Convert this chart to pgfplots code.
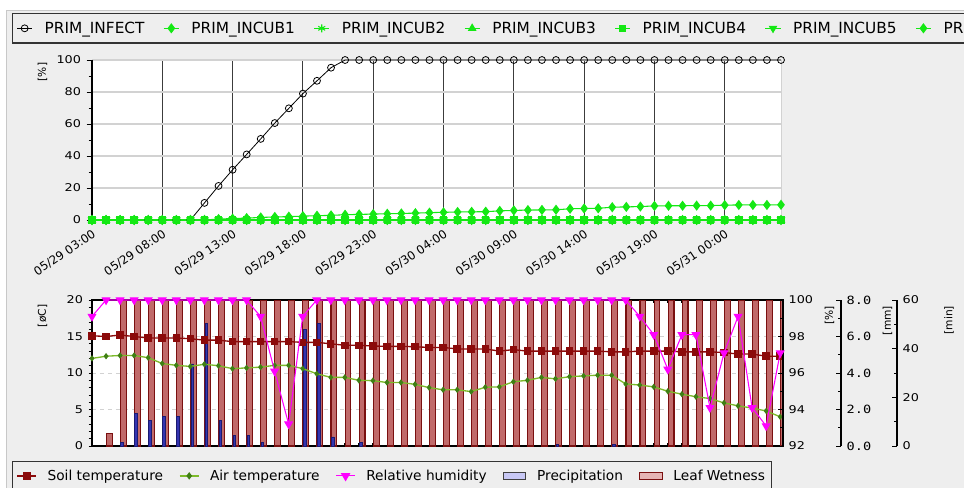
\documentclass[border=0pt]{standalone}
\usepackage{fontspec}
\setmainfont{DejaVu Sans}
\newfontfamily\monofont{DejaVu Sans Mono}
\usepackage{pgfplots}
\usepackage{pgfplotstable}
\pgfplotsset{compat=1.18}

\definecolor{panel}{HTML}{EEEEEE}
\definecolor{panelline}{HTML}{C8C8C8}
\definecolor{incub}{HTML}{14E814}
\definecolor{soil}{HTML}{8B0A0A}
\definecolor{airline}{HTML}{7DBA2A}
\definecolor{airmark}{HTML}{3F7F14}
\definecolor{rh}{HTML}{FF00FF}
\definecolor{leaffill}{HTML}{C06A6A}
\definecolor{leafdraw}{HTML}{7A1010}
\definecolor{leafleg}{HTML}{E6B4B4}
\definecolor{precfill}{HTML}{3434B0}
\definecolor{precdraw}{HTML}{1A1A70}
\definecolor{precleg}{HTML}{C8C8F5}
\definecolor{gridv}{HTML}{3C3C3C}
\definecolor{gridh}{HTML}{D2D2D2}

\pgfplotsset{
  /pgf/number format/assume math mode=true,
  tick label style={font=\fontsize{8}{9.5}\selectfont},
  yticklabel style={xscale=1.2},
  major tick length=4pt, minor tick length=2.5pt,
  tick style={black, line width=0.6pt},
}

% hourly values from 05/29 03:00 (h=0)
\pgfplotstableread{
h infect incub1 zero
0 0 0 0
1 0 0 0
2 0 0 0
3 0 0 0
4 0 0 0
5 0 0 0
6 0 0 0
7 0 0 0
8 10.7 0 0
9 21.3 0.6 0
10 31.4 0.9 0
11 41.0 1.2 0
12 50.7 1.6 0
13 60.6 1.9 0
14 69.8 2.1 0
15 79.0 2.4 0
16 87.0 2.7 0
17 95.2 2.9 0
18 100 3.3 0
19 100 3.5 0
20 100 3.7 0
21 100 3.9 0
22 100 4.1 0
23 100 4.3 0
24 100 4.6 0
25 100 4.8 0
26 100 5.0 0
27 100 5.1 0
28 100 5.2 0
29 100 5.7 0
30 100 6.0 0
31 100 6.2 0
32 100 6.3 0
33 100 6.4 0
34 100 7.0 0
35 100 7.2 0
36 100 7.3 0
37 100 8.0 0
38 100 8.2 0
39 100 8.4 0
40 100 8.8 0
41 100 8.9 0
42 100 8.9 0
43 100 9.0 0
44 100 9.0 0
45 100 9.3 0
46 100 9.4 0
47 100 9.4 0
48 100 9.4 0
49 100 9.5 0
}\topdata

\pgfplotstableread{
h soil air rh
0 15.1 12.0 99.1
1 15.0 12.3 100
2 15.2 12.4 100
3 15.0 12.4 100
4 14.8 12.1 100
5 14.8 11.3 100
6 14.8 11.05 100
7 14.7 10.9 100
8 14.5 11.2 100
9 14.5 11.0 100
10 14.3 10.6 100
11 14.3 10.7 100
12 14.3 10.8 99.1
13 14.3 11.05 96.1
14 14.3 11.05 93.2
15 14.2 10.6 99.1
16 14.2 9.9 100
17 14.0 9.4 100
18 13.8 9.4 100
19 13.8 9.0 100
20 13.7 8.95 100
21 13.65 8.7 100
22 13.65 8.7 100
23 13.6 8.45 100
24 13.5 8.0 100
25 13.5 7.7 100
26 13.3 7.7 100
27 13.3 7.45 100
28 13.3 8.05 100
29 13.0 8.1 100
30 13.2 8.8 100
31 13.0 9.0 100
32 13.0 9.4 100
33 13.0 9.2 100
34 13.0 9.5 100
35 13.0 9.6 100
36 13.0 9.7 100
37 12.9 9.7 100
38 12.9 8.5 100
39 13.0 8.35 99.1
40 13.0 8.1 98.1
41 13.0 7.5 96.2
42 12.9 7.1 98.1
43 12.9 6.75 98.1
44 12.9 6.5 94.1
45 12.8 5.9 97.1
46 12.6 5.5 99.1
47 12.6 5.2 94.1
48 12.3 4.8 93.1
49 12.3 4.0 97.1
}\botdata

% precipitation [mm], hours with rain only
\pgfplotstableread{
h prec
2 0.2
3 1.8
4 1.4
5 1.6
6 1.6
7 4.5
8 6.7
9 1.4
10 0.6
11 0.6
12 0.2
15 6.4
16 6.7
17 0.5
19 0.2
33 0.1
37 0.1
}\precdata

% leaf wetness [min]
\pgfplotstableread{
h leaf
1 5
2 60
3 60
4 60
5 60
6 60
7 60
8 60
9 60
10 60
11 60
12 60
13 60
14 60
15 60
16 60
17 60
18 60
19 60
20 60
21 60
22 60
23 60
24 60
25 60
26 60
27 60
28 60
29 60
30 60
31 60
32 60
33 60
34 60
35 60
36 60
37 60
38 60
39 60
40 60
41 60
42 60
43 60
44 60
45 60
46 60
47 60
48 60
49 60
}\leafdata

\begin{document}
\begin{tikzpicture}
\fill[white] (0,0) rectangle (723pt,365.25pt);
\filldraw[fill=panel, draw=panelline] (4.5pt,-5pt) rectangle (730pt,357.75pt);

% ---------- upper chart ----------
\begin{axis}[
  at={(69pt,200.25pt)}, anchor=south west,
  scale only axis, width=516.75pt, height=120pt,
  xmin=0, xmax=49, ymin=0, ymax=100,
  clip=false,
  axis background/.style={fill=white, draw=gridh},
  axis lines*=left,
  axis line style={black, line width=0.8pt},
  xtick={0,5,...,45},
  xticklabels={05/29 03:00,05/29 08:00,05/29 13:00,05/29 18:00,05/29 23:00,05/30 04:00,05/30 09:00,05/30 14:00,05/30 19:00,05/31 00:00},
  xticklabel style={yshift=-5pt, rotate=34, anchor=north east, inner sep=1pt, font=\fontsize{8.8}{10}\selectfont},
  minor x tick num=4, xtick align=inside,
  xmajorgrids, x grid style={gridv, line width=0.8pt},
  ytick={0,20,...,100}, minor y tick num=1, ytick align=outside,
  ymajorgrids, y grid style={gridh, line width=0.8pt},
  ylabel={[\%]},
  every axis y label/.style={at={(rel axis cs:0,1)}, xshift=-30pt, yshift=1.5pt, rotate=90, anchor=south east, font=\fontsize{8}{9.5}\selectfont},
  legend columns=-1,
  legend image code/.code={\draw[mark repeat=2,mark phase=2] plot coordinates {(0cm,0cm) (0.2cm,0cm) (0.4cm,0cm)};},
  legend style={at={(-0.1161,1.294)}, anchor=north west, draw=black!80, line width=1pt,
    fill=panel, font=\fontsize{11.5}{13}\selectfont, inner ysep=4pt, inner xsep=3pt,
    /tikz/every odd column/.append style={column sep=7pt},
    /tikz/every even column/.append style={column sep=12pt}},
]
\addplot[black, line width=0.6pt, mark=o, mark size=2.6pt, mark options={fill=white, line width=0.6pt}] table[x=h, y=infect] {\topdata};
\addplot[incub, line width=0.8pt, mark=diamond*, mark size=3.2pt] table[x=h, y=incub1] {\topdata};
\addplot[incub, line width=0.8pt, mark=asterisk, mark size=3pt] table[x=h, y=zero] {\topdata};
\addplot[incub, line width=0.8pt, mark=triangle*, mark size=3pt] table[x=h, y=zero] {\topdata};
\addplot[incub, line width=0.8pt, mark=square*, mark size=2.4pt] table[x=h, y=zero] {\topdata};
\addplot[incub, line width=0.8pt, mark=triangle*, mark size=3pt, mark options={rotate=180}] table[x=h, y=zero] {\topdata};
\addplot[incub, line width=0.8pt, mark=diamond*, mark size=3.2pt] table[x=h, y=zero] {\topdata};
\legend{PRIM\_INFECT, PRIM\_INCUB1, PRIM\_INCUB2, PRIM\_INCUB3, PRIM\_INCUB4, PRIM\_INCUB5, PRIM\_INCUB6}
\end{axis}

% ---------- lower chart: frame, left axis [oC] and legend ----------
\begin{axis}[
  at={(69pt,30.75pt)}, anchor=south west,
  scale only axis, width=518.25pt, height=109.5pt,
  xmin=0, xmax=49.2, ymin=0, ymax=20,
  axis background/.style={fill=white},
  axis line style={black, line width=0.8pt},
  xtick={0,...,49}, xticklabels={}, xtick align=inside, major tick length=2.5pt,
  ytick={0,5,...,20}, minor y tick num=4, ytick align=outside, ytick pos=left,
  ymajorgrids, y grid style={dashed, gray!35, line width=0.7pt},
  ylabel={[øC]},
  every axis y label/.style={at={(rel axis cs:0,1)}, xshift=-30pt, yshift=0pt, rotate=90, anchor=south east, font=\fontsize{8}{9.5}\selectfont},
  legend columns=-1,
  legend image code/.code={\draw[mark repeat=2,mark phase=2] plot coordinates {(0cm,0cm) (0.25cm,0cm) (0.5cm,0cm)};},
  legend style={at={(-0.1158,-0.1027)}, anchor=north west, draw=black!80, line width=1pt,
    fill=panel, font=\fontsize{10.3}{12}\selectfont, inner ysep=4pt, inner xsep=3pt,
    /tikz/every odd column/.append style={column sep=6pt},
    /tikz/every even column/.append style={column sep=10pt}},
]
\addlegendimage{soil, line width=1pt, mark=square*, mark size=2.4pt}
\addlegendimage{airline, line width=1pt, mark=diamond*, mark size=2pt, mark options={fill=airmark, draw=airmark}}
\addlegendimage{rh, line width=0.8pt, mark=triangle*, mark size=3.4pt, mark options={rotate=180}}
\addlegendimage{area legend, fill=precleg, draw=black!75, line width=0.8pt}
\addlegendimage{area legend, fill=leafleg, draw=leafdraw, line width=0.8pt}
\legend{Soil temperature, Air temperature, Relative humidity, Precipitation, Leaf Wetness}
\end{axis}

% leaf wetness bars [min]
\begin{axis}[
  at={(69pt,30.75pt)}, anchor=south west,
  scale only axis, width=518.25pt, height=109.5pt,
  xmin=0, xmax=49.2, ymin=0, ymax=60, hide axis,
]
\addplot[ybar, bar width=4.4pt, bar shift=2.4pt, fill=leaffill, draw=leafdraw, line width=0.8pt] table[x=h, y=leaf] {\leafdata};
\end{axis}

% precipitation bars [mm]
\begin{axis}[
  at={(69pt,30.75pt)}, anchor=south west,
  scale only axis, width=518.25pt, height=109.5pt,
  xmin=0, xmax=49.2, ymin=0, ymax=8, hide axis,
]
\addplot[ybar, bar width=2pt, bar shift=1.4pt, fill=precfill, draw=precdraw, line width=0.5pt] table[x=h, y=prec] {\precdata};
\end{axis}

% temperatures [oC]
\begin{axis}[
  at={(69pt,30.75pt)}, anchor=south west,
  scale only axis, width=518.25pt, height=109.5pt,
  xmin=0, xmax=49.2, ymin=0, ymax=20, hide axis, clip=false,
]
\addplot[soil, line width=1pt, mark=square*, mark size=2.3pt] table[x=h, y=soil] {\botdata};
\addplot[airline, line width=1pt, mark=diamond*, mark size=1.6pt, mark options={fill=airmark, draw=airmark}] table[x=h, y=air] {\botdata};
\end{axis}

% relative humidity [%], right axis
\begin{axis}[
  at={(69pt,30.75pt)}, anchor=south west,
  scale only axis, width=518.25pt, height=109.5pt,
  xmin=0, xmax=49.2, ymin=92, ymax=100, clip=false,
  hide x axis, axis y line*=right,
  axis line style={black, line width=0.8pt},
  ytick={92,94,...,100}, minor y tick num=1, ytick align=inside,
  ylabel={[\%]},
  every axis y label/.style={at={(rel axis cs:1,1)}, xshift=27.75pt, yshift=-1pt, rotate=90, anchor=north east, font=\fontsize{8}{9.5}\selectfont},
]
\addplot[rh, line width=0.8pt, mark=triangle*, mark size=3.2pt, mark options={rotate=180}] table[x=h, y=rh] {\botdata};
\end{axis}

% [mm] scale
\begin{axis}[
  at={(620.75pt,30.75pt)}, anchor=south west,
  scale only axis, width=10pt, height=109.5pt,
  xmin=0, xmax=1, ymin=0, ymax=8,
  hide x axis, axis y line*=right,
  axis line style={black, line width=0.8pt},
  ytick={0,2,...,8}, minor y tick num=1, ytick align=inside,
  yticklabel style={font=\monofont\fontsize{8.5}{10}\selectfont, /pgf/number format/.cd, fixed, fixed zerofill, precision=1},
  ylabel={[mm]},
  every axis y label/.style={at={(rel axis cs:1,1)}, xshift=27.75pt, yshift=-1pt, rotate=90, anchor=north east, font=\fontsize{8}{9.5}\selectfont},
]
\end{axis}

% [min] scale
\begin{axis}[
  at={(662.75pt,30.75pt)}, anchor=south west,
  scale only axis, width=10pt, height=109.5pt,
  xmin=0, xmax=1, ymin=0, ymax=60,
  hide x axis, axis y line*=right,
  axis line style={black, line width=0.8pt},
  ytick={0,20,40,60}, minor y tick num=1, ytick align=inside,
  ylabel={[min]},
  every axis y label/.style={at={(rel axis cs:1,1)}, xshift=32pt, yshift=-1pt, rotate=90, anchor=north east, font=\fontsize{8}{9.5}\selectfont},
]
\end{axis}

\pgfresetboundingbox
\useasboundingbox (0,0) rectangle (723pt,365.25pt);
\end{tikzpicture}
\end{document}
